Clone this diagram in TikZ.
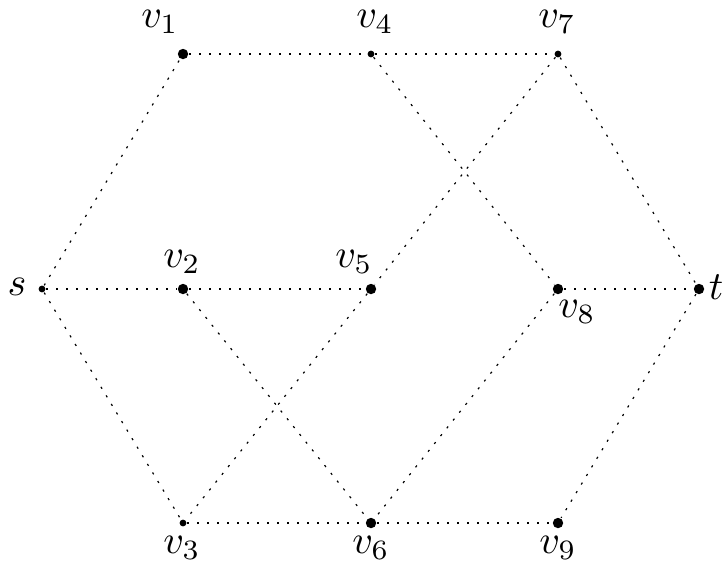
\documentclass[tikz,border=0pt]{standalone}
\begin{document}
\begin{tikzpicture}[x=0.25pt,y=-0.25pt,
  big/.style={circle,fill=black,inner sep=0pt,minimum size=2.6pt},
  small/.style={circle,fill=black,inner sep=0pt,minimum size=1.7pt},
  lab/.style={inner sep=0pt},
  edge/.style={dash pattern=on 0.55pt off 1.95pt,line width=0.3pt}]
\useasboundingbox (0,0) rectangle (726,560);
\node[small] (s) at (42,289) {};
\node[big] (v1) at (183,54) {};
\node[big] (v2) at (183,289) {};
\node[small] (v3) at (183,523) {};
\node[small] (v4) at (371,54) {};
\node[big] (v5) at (371,289) {};
\node[big] (v6) at (371,523) {};
\node[small] (v7) at (558,54) {};
\node[big] (v8) at (558,289) {};
\node[big] (v9) at (558,523) {};
\node[big] (t) at (699,289) {};
\node[lab] (ls) at (17,287) {$s$};
\node[lab] (l1) at (160,22) {$v_1$};
\node[lab] (l2) at (182,262) {$v_2$};
\node[lab] (l3) at (182,548) {$v_3$};
\node[lab] (l4) at (375,22) {$v_4$};
\node[lab] (l5) at (354,262) {$v_5$};
\node[lab] (l6) at (371,548) {$v_6$};
\node[lab] (l7) at (557,22) {$v_7$};
\node[lab] (l8) at (577,312) {$v_8$};
\node[lab] (l9) at (558,548) {$v_9$};
\node[lab] (lt) at (716,287) {$t$};
\draw[edge] (s) -- (v1);
\draw[edge] (s) -- (v2);
\draw[edge] (s) -- (v3);
\draw[edge] (v1) -- (v4);
\draw[edge] (v4) -- (v7);
\draw[edge] (v4) -- (v8);
\draw[edge] (v7) -- (t);
\draw[edge] (v7) -- (v5);
\draw[edge] (v5) -- (v3);
\draw[edge] (v2) -- (v5);
\draw[edge] (v2) -- (v6);
\draw[edge] (v8) -- (v6);
\draw[edge] (v8) -- (t);
\draw[edge] (t) -- (v9);
\draw[edge] (v3) -- (v6);
\draw[edge] (v6) -- (v9);
\end{tikzpicture}
\end{document}
